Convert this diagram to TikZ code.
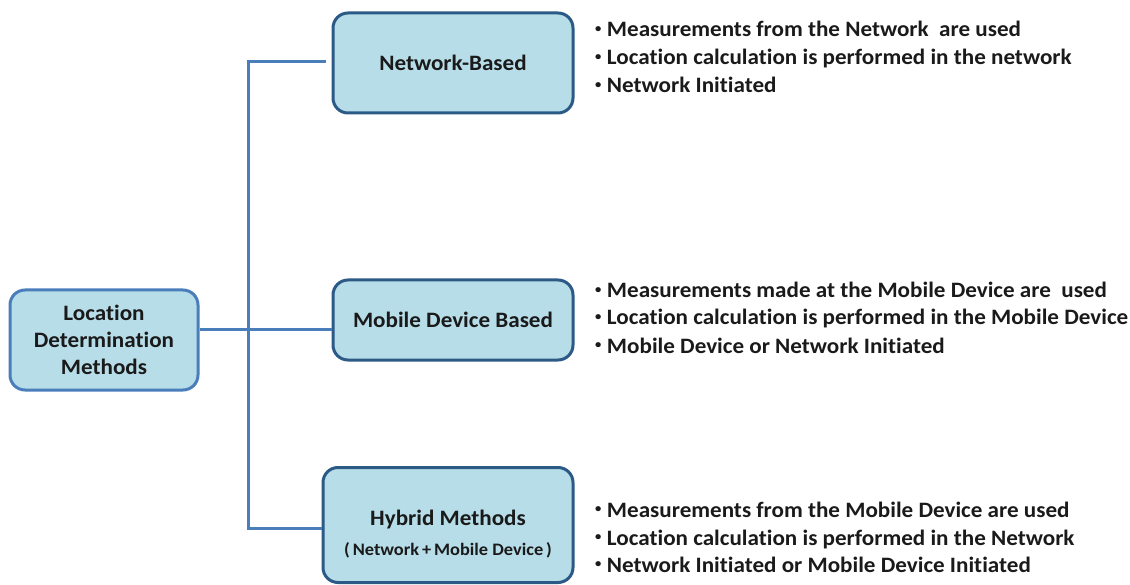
\documentclass[tikz,border=0pt]{standalone}
\usepackage{fontspec}
\setmainfont{Carlito}[Ligatures=NoCommon, FakeStretch=1.05]
\definecolor{boxfill}{HTML}{B7DDE8}
\definecolor{rootedge}{HTML}{4A7EBB}
\definecolor{boxedge}{HTML}{2C5A87}
\definecolor{wire}{HTML}{4A7EBB}
\definecolor{ink}{HTML}{1A1A1A}
\newcommand{\dotmark}{\raisebox{0.2em}{\fontsize{12}{12}\selectfont •}\hspace{0.25em}}
\begin{document}
\begin{tikzpicture}[x=1pt,y=-1pt,
  method/.style={draw=boxedge, fill=boxfill, line width=3pt, rounded corners=15pt,
    align=center, text=ink, inner sep=0pt, font=\bfseries\fontsize{22}{27}\selectfont},
  rootbox/.style={method, draw=rootedge},
  caption/.style={align=center, text=ink, inner sep=0pt, font=\bfseries\fontsize{22}{27}\selectfont},
  point/.style={anchor=base west, inner sep=0pt, text=ink,
    font=\bfseries\fontsize{22}{27}\selectfont},
  link/.style={draw=wire, line width=3pt}]
\useasboundingbox (0,0) rectangle (1130,585);

% boxes
\node[rootbox, minimum width=188pt, minimum height=100pt] (ldm) at (104,340)
  {Location\\Determination\\Methods};
\node[method, minimum width=240pt, minimum height=100pt] (net) at (453,63) {Network-Based};
\node[method, minimum width=240pt, minimum height=80pt] (mob) at (453,320) {Mobile Device Based};
\node[method, minimum width=250pt, minimum height=115pt] (hyb) at (448,525) {};
\node[caption] (hybtxt) at ([yshift=-9pt]hyb.center)
  {Hybrid Methods\\[3pt]{\fontsize{17.5}{20}\selectfont (\,Network\,+\,Mobile Device\,)}};

% tree connectors
\coordinate (top) at (248,62);
\coordinate (mid) at (248,330);
\coordinate (bot) at (248,528);
\draw[link] (ldm.east |- mid) -- (mid) -- (mob.west |- mid);
\draw[link, shorten <=6pt] (net.west |- top) -- (top) -- (bot) -- (hyb.west |- bot);

% descriptions
\node[point] (n1) at (595,37) {\dotmark Measurements from the Network\ \ are used};
\node[point] (n2) at (595,65) {\dotmark Location calculation is performed in the network};
\node[point] (n3) at (595,93) {\dotmark Network Initiated};

\node[point] (m1) at (595,298) {\dotmark Measurements made at the Mobile Device are\ \ used};
\node[point] (m2) at (595,325) {\dotmark Location calculation is performed in the Mobile Device};
\node[point] (m3) at (595,353) {\dotmark Mobile Device or Network Initiated};

\node[point] (h1) at (595,517) {\dotmark Measurements from the Mobile Device are used};
\node[point] (h2) at (595,545) {\dotmark Location calculation is performed in the Network};
\node[point] (h3) at (595,572) {\dotmark Network Initiated or Mobile Device Initiated};
\end{tikzpicture}
\end{document}
